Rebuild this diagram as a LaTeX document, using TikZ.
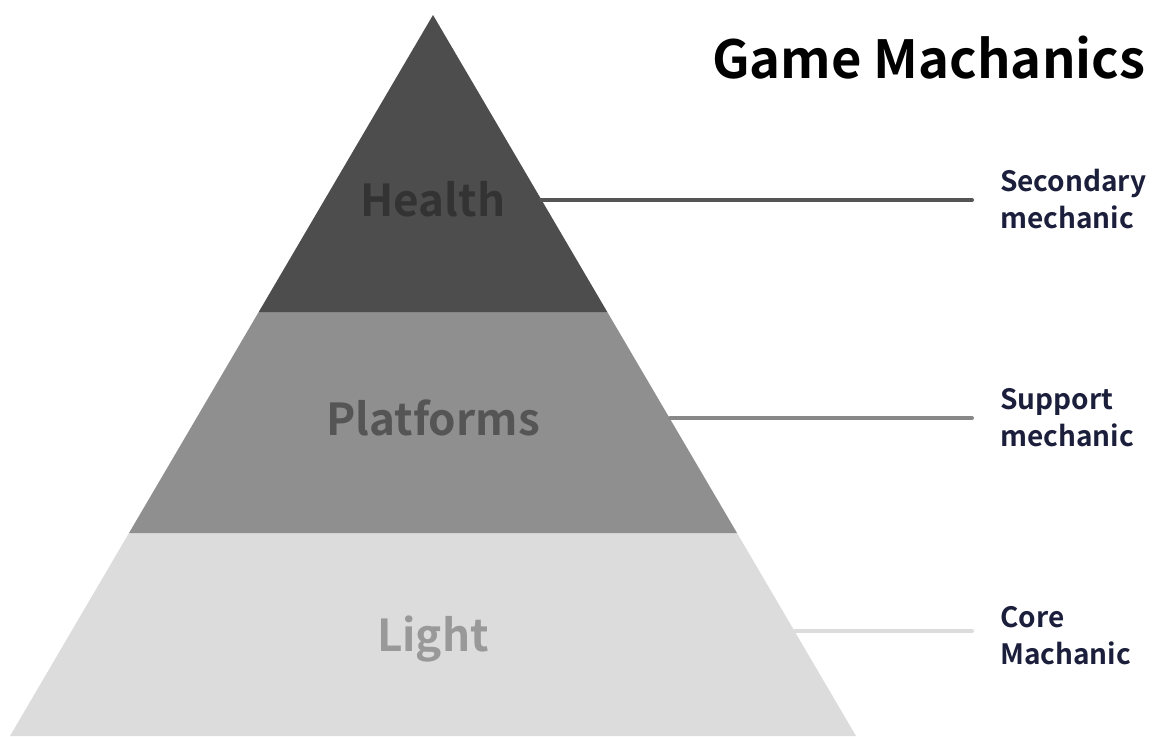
\documentclass[tikz,border=0pt]{standalone}
\usepackage{fontspec}
\setmainfont{Noto Sans CJK SC}[BoldFont=* Bold]
\definecolor{topgray}{RGB}{77,77,77}
\definecolor{midgray}{RGB}{143,143,143}
\definecolor{lowgray}{RGB}{220,220,220}
\definecolor{navytext}{RGB}{27,31,59}
\tikzset{
  layertext/.style={anchor=center,inner sep=0pt,font=\bfseries\fontsize{44}{48}\selectfont},
  sidetext/.style={anchor=west,inner sep=0pt,align=left,text=navytext,font=\bfseries\fontsize{28}{37}\selectfont},
  leader/.style={line width=4pt,line cap=round,shorten >=28pt},
}
\begin{document}
\begin{tikzpicture}[x=1pt,y=1pt,yscale=-1,xscale=1]
		\useasboundingbox (0,0) rectangle (1155,736);

		%Shape: Trapezoid [bottom layer]
		\fill [lowgray] (129,533) -- (737,533) -- (856,736) -- (10,736) -- cycle ;
		%Shape: Trapezoid [middle layer]
		\fill [midgray] (258.7,312) -- (607.3,312) -- (737,533) -- (129,533) -- cycle ;
		%Shape: Triangle [top layer]
		\fill [topgray] (433,15) -- (607.3,312) -- (258.7,312) -- cycle ;

		% Leader ends on the pyramid edge
		\coordinate (healthend) at (541,200) ;
		\coordinate (platend) at (670,418) ;
		\coordinate (lightend) at (795,631) ;

		% Text Node
		\node (title) [anchor=base west,inner sep=0pt,font=\bfseries\fontsize{52.5}{58}\selectfont] at (712,78) {Game Machanics};
		% Text Node
		\node (health) [layertext,text={rgb,255:red,51;green,51;blue,51}] at (433,199) {Health};
		% Text Node
		\node (platforms) [layertext,text={rgb,255:red,85;green,85;blue,85}] at (433,418) {Platforms};
		% Text Node
		\node (light) [layertext,text={rgb,255:red,153;green,153;blue,153}] at (433,639) {Light};
		% Text Node
		\node (secondary) [sidetext] at (1000,199) {Secondary\\mechanic};
		% Text Node
		\node (support) [sidetext] at (1000,418) {Support\\mechanic};
		% Text Node
		\node (core) [sidetext] at (1000,636) {Core\\Machanic};

		%Straight Lines
		\draw [leader,draw={rgb,255:red,85;green,85;blue,85}] (healthend) -- (healthend -| secondary.west) ;
		%Straight Lines
		\draw [leader,draw={rgb,255:red,136;green,136;blue,136}] (platend) -- (platend -| support.west) ;
		%Straight Lines
		\draw [leader,draw=lowgray] (lightend) -- (lightend -| core.west) ;
\end{tikzpicture}
\end{document}
